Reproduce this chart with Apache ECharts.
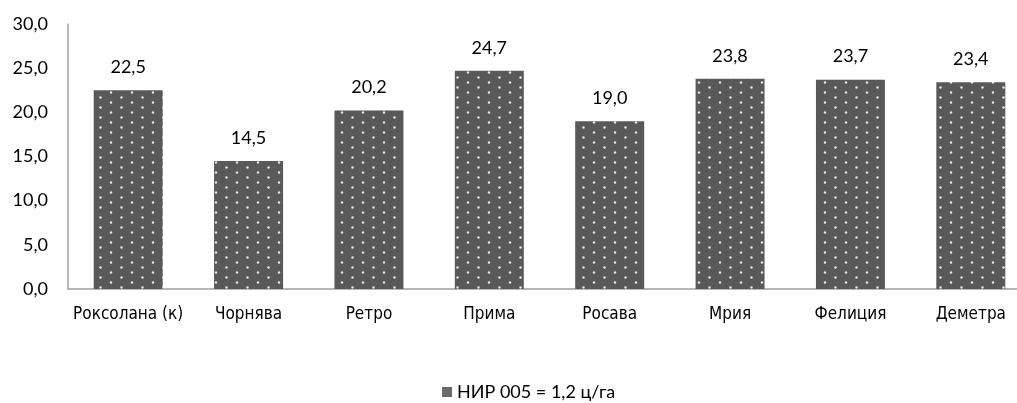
<!DOCTYPE html>
<html><head><meta charset="utf-8">
<script src="https://cdn.jsdelivr.net/npm/echarts@6/dist/echarts.min.js"></script>
<style>html,body{margin:0;padding:0;background:#fff;overflow:hidden}#c{width:1031px;height:403px}</style>
</head><body><div id="c"></div>
<script>
const categories = ['Роксолана (к)', 'Чорнява', 'Ретро', 'Прима', 'Росава', 'Мрия', 'Фелиция', 'Деметра'];
const values = [22.5, 14.5, 20.2, 24.7, 19.0, 23.8, 23.7, 23.4];
const seriesName = 'НИР 005 = 1,2 ц/га';
const yTicks = {min: 0, max: 30, interval: 5};

function makePattern() {
  const c = document.createElement('canvas');
  c.width = 21; c.height = 10;
  const g = c.getContext('2d');
  g.fillStyle = '#595959';
  g.fillRect(0, 0, 21, 10);
  g.fillStyle = '#e6e6e6';
  [[6, 2.5], [16.5, 7.5]].forEach(p => {
    g.beginPath(); g.arc(p[0], p[1], 1.2, 0, Math.PI * 2); g.fill();
  });
  return c;
}
const pat = makePattern();

const chart = echarts.init(document.getElementById('c'));
chart.setOption({
  animation: false,
  grid: {left: 68, right: 0, top: 24, bottom: 114},
  legend: {
    bottom: 0, left: 437, padding: [0, 5, 2, 5], itemWidth: 10, itemHeight: 10, itemGap: 8,
    icon: 'rect',
    textStyle: {fontFamily: 'Lato', fontSize: 18, color: '#000'},
    data: [{name: seriesName, itemStyle: {color: '#6a6a6a'}}]
  },
  xAxis: {
    type: 'category', data: categories,
    axisLine: {lineStyle: {color: '#a0a0a0', width: 1.5}},
    axisTick: {show: false},
    axisLabel: {fontFamily: "'Liberation Sans Narrow', 'DejaVu Sans Condensed', sans-serif", fontSize: 17, color: '#000', margin: 17, interval: 0}
  },
  yAxis: {
    type: 'value', min: yTicks.min, max: yTicks.max, interval: yTicks.interval,
    axisLine: {show: true, lineStyle: {color: '#a0a0a0', width: 1.5}},
    axisTick: {show: false},
    splitLine: {show: false},
    axisLabel: {fontFamily: 'Lato', fontSize: 18, color: '#000', margin: 20,
      formatter: v => v.toFixed(1).replace('.', ',')}
  },
  series: [{
    name: seriesName, type: 'bar', data: values, barWidth: 69,
    itemStyle: {color: {image: pat, repeat: 'repeat'}},
    label: {show: true, position: 'top', distance: 14, fontFamily: 'Lato', fontSize: 18, color: '#000',
      formatter: p => p.value.toFixed(1).replace('.', ',')}
  }]
});
</script></body></html>
